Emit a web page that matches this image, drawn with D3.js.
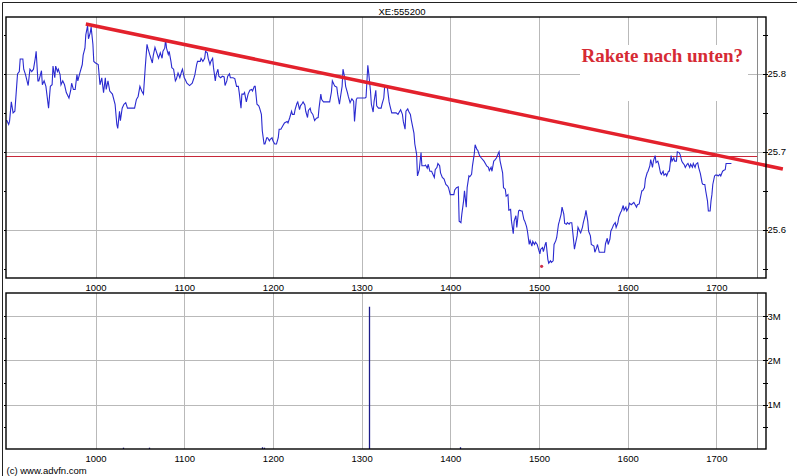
<!DOCTYPE html>
<html><head><meta charset="utf-8">
<script src="https://cdn.jsdelivr.net/npm/d3@7"></script>
<style>
html,body{margin:0;padding:0;background:#fff;}
svg{display:block;font-family:"Liberation Sans",Arial,sans-serif;}
</style></head><body>
<svg id="chart" width="800" height="476"></svg>
<script>
// ---------- data ----------
const chartTitle = "XE:555200";
const annotation = "Rakete nach unten?";
const copyright = "(c) www.advfn.com";
const timeDomain = [899, 1756];
const timeTicks = [1000, 1100, 1200, 1300, 1400, 1500, 1600, 1700];
const priceDomain = [25.538, 25.873];
const priceTicks = [25.6, 25.7, 25.8];
const priceMinorTicks = [25.55, 25.6, 25.65, 25.7, 25.75, 25.8, 25.85];
const volumeDomain = [0, 3520000];
const volumeTicks = [1000000, 2000000, 3000000];
const volumeTickLabels = ["1M", "2M", "3M"];
const volumeMinorTicks = [500000, 1000000, 1500000, 2000000, 2500000, 3000000];
const sessionEnd = 1746;
const resistanceLevel = 25.695;
const trendLine = [[989, 25.864], [1775, 25.678]];
const dayLow = [1503, 25.553];
const volumeSeries = [[1031, 30000], [1060, 30000], [1188, 40000], [1190, 30000], [1308, 3210000], [1411, 40000]];
const priceSeries = [
[899,25.740],[900,25.740],[902,25.735],[903,25.739],[905,25.764],[907,25.750],[909,25.752],[911,25.784],[912,25.800],[914,25.803],
[915,25.819],[918,25.819],[919,25.806],[921,25.799],[924,25.785],[926,25.806],[928,25.803],[930,25.806],[932,25.820],[933,25.829],
[935,25.791],[936,25.791],[939,25.804],[940,25.786],[942,25.791],[944,25.784],[947,25.756],[949,25.784],[951,25.786],[952,25.810],
[954,25.795],[955,25.810],[957,25.803],[958,25.806],[960,25.799],[961,25.786],[963,25.791],[965,25.786],[967,25.776],[970,25.769],
[972,25.779],[973,25.788],[975,25.780],[977,25.780],[979,25.799],[980,25.791],[982,25.800],[985,25.812],[986,25.824],[988,25.833],
[989,25.850],[991,25.862],[992,25.845],[994,25.853],[995,25.860],[997,25.838],[998,25.816],[1000,25.814],[1003,25.812],[1005,25.786],
[1007,25.795],[1009,25.776],[1011,25.795],[1012,25.780],[1014,25.791],[1016,25.778],[1019,25.774],[1022,25.761],[1024,25.735],[1025,25.730],
[1027,25.752],[1028,25.740],[1030,25.756],[1032,25.761],[1034,25.763],[1036,25.756],[1038,25.756],[1041,25.756],[1044,25.756],[1046,25.767],
[1048,25.771],[1050,25.784],[1052,25.778],[1054,25.774],[1056,25.808],[1058,25.838],[1059,25.833],[1061,25.825],[1064,25.814],[1065,25.823],
[1067,25.834],[1069,25.827],[1071,25.820],[1073,25.827],[1075,25.820],[1076,25.829],[1078,25.833],[1079,25.844],[1080,25.833],[1082,25.825],
[1083,25.829],[1085,25.816],[1086,25.808],[1088,25.806],[1090,25.791],[1091,25.793],[1093,25.801],[1095,25.795],[1097,25.803],[1098,25.806],
[1100,25.795],[1101,25.793],[1103,25.788],[1106,25.785],
[1109,25.788],[1111,25.795],[1112,25.799],[1114,25.812],[1115,25.816],[1118,25.816],[1119,25.820],[1121,25.816],[1123,25.820],[1124,25.829],
[1126,25.827],[1127,25.820],[1129,25.812],[1130,25.816],[1132,25.820],[1133,25.808],[1135,25.791],[1136,25.799],[1138,25.806],[1139,25.797],
[1141,25.795],[1143,25.797],[1145,25.796],[1146,25.785],[1148,25.791],[1149,25.797],[1151,25.800],[1152,25.795],[1155,25.795],[1157,25.794],
[1159,25.784],[1161,25.784],[1162,25.776],[1164,25.756],[1165,25.774],[1167,25.774],[1168,25.776],[1170,25.764],[1172,25.774],[1174,25.779],
[1176,25.780],[1177,25.778],[1179,25.784],[1180,25.784],[1182,25.761],[1184,25.759],[1185,25.756],[1187,25.748],[1188,25.727],[1190,25.710],
[1191,25.710],[1193,25.718],[1194,25.718],[1196,25.714],[1197,25.716],[1199,25.718],[1200,25.714],[1202,25.710],[1204,25.710],[1206,25.718],
[1207,25.729],[1209,25.729],[1211,25.733],[1213,25.737],[1216,25.739],[1217,25.737],[1219,25.744],[1221,25.752],[1222,25.748],[1224,25.748],
[1225,25.754],[1227,25.762],[1228,25.764],[1230,25.754],[1231,25.759],[1233,25.762],[1234,25.764],[1236,25.760],[1237,25.752],[1239,25.744],
[1240,25.753],[1242,25.756],[1243,25.751],[1245,25.748],[1247,25.740],[1249,25.743],[1251,25.744],[1252,25.756],[1254,25.774],[1255,25.767],
[1257,25.764],[1258,25.764],[1261,25.764],[1263,25.764],[1264,25.764],[1266,25.777],[1267,25.791],[1269,25.786],[1270,25.784],[1272,25.783],
[1273,25.774],[1275,25.761],[1276,25.769],[1278,25.784],[1279,25.806],[1281,25.795],[1282,25.784],[1284,25.776],[1285,25.771],[1287,25.763],
[1289,25.768],[1291,25.765],[1292,25.739],[1294,25.767],[1295,25.769],[1298,25.769],[1301,25.769],[1304,25.769],[1305,25.770],[1307,25.811],
[1308,25.801],[1310,25.778],[1311,25.761],[1313,25.751],[1314,25.764],[1316,25.779],[1317,25.759],[1319,25.756],[1322,25.756],[1323,25.761],
[1325,25.769],[1326,25.784],
[1329,25.783],[1331,25.764],[1332,25.759],[1334,25.750],[1337,25.750],[1339,25.750],[1341,25.748],[1343,25.752],[1344,25.754],[1346,25.748],
[1347,25.739],[1349,25.729],[1350,25.752],[1352,25.755],[1353,25.752],[1355,25.748],[1356,25.741],[1359,25.724],[1360,25.710],[1362,25.697],
[1363,25.669],[1364,25.673],[1365,25.677],[1367,25.699],[1368,25.682],[1371,25.682],[1372,25.683],[1374,25.679],[1375,25.684],[1377,25.675],
[1379,25.675],[1380,25.672],[1382,25.667],[1383,25.677],[1385,25.680],[1386,25.685],[1388,25.682],[1389,25.673],[1391,25.667],[1393,25.665],
[1395,25.658],[1397,25.656],[1398,25.654],[1400,25.645],[1402,25.645],[1404,25.645],[1405,25.651],[1407,25.654],[1409,25.655],[1410,25.611],
[1412,25.609],[1413,25.620],[1415,25.637],[1416,25.650],[1418,25.629],[1419,25.654],[1421,25.669],[1422,25.668],[1424,25.671],[1425,25.682],
[1427,25.697],[1428,25.709],[1430,25.703],[1431,25.702],[1433,25.695],[1435,25.692],[1438,25.688],[1440,25.684],[1441,25.682],[1443,25.680],
[1444,25.676],[1446,25.680],[1447,25.675],[1449,25.688],[1450,25.689],[1452,25.692],[1453,25.695],[1455,25.700],[1456,25.689],[1459,25.673],
[1460,25.654],[1462,25.652],[1463,25.643],[1465,25.645],[1466,25.625],[1468,25.626],[1469,25.611],[1471,25.595],[1472,25.611],[1474,25.618],
[1475,25.603],[1477,25.624],[1478,25.625],[1480,25.624],[1481,25.624],[1483,25.613],[1484,25.611],[1486,25.604],[1487,25.598],[1489,25.581],
[1490,25.586],[1492,25.579],[1493,25.585],[1495,25.581],[1496,25.584],[1498,25.581],[1499,25.577],[1501,25.569],[1502,25.575],[1504,25.577],
[1505,25.572],[1507,25.581],[1508,25.584],[1510,25.562],[1511,25.557],[1513,25.560],[1514,25.558],[1516,25.560],[1517,25.581],[1519,25.586],
[1520,25.590],[1522,25.607],[1523,25.611],[1525,25.620],[1526,25.629],[1528,25.620],[1529,25.608],[1531,25.607],[1532,25.609],[1534,25.607],
[1535,25.609],
[1537,25.609],[1538,25.598],[1540,25.575],[1541,25.581],[1543,25.592],[1544,25.603],[1546,25.598],[1547,25.596],[1549,25.603],[1550,25.609],
[1552,25.618],[1553,25.625],[1555,25.611],[1556,25.598],[1558,25.592],[1559,25.581],[1562,25.579],[1563,25.571],[1565,25.577],[1566,25.581],
[1568,25.571],[1569,25.571],[1571,25.571],[1574,25.571],[1575,25.582],[1577,25.589],[1578,25.581],[1580,25.588],[1581,25.598],[1583,25.603],
[1584,25.606],[1586,25.609],[1587,25.603],[1589,25.609],[1590,25.616],[1592,25.622],[1593,25.624],[1595,25.631],[1596,25.625],[1598,25.629],
[1599,25.624],[1601,25.628],[1602,25.634],[1604,25.632],[1605,25.633],[1607,25.635],[1608,25.633],[1610,25.629],[1611,25.632],[1613,25.633],
[1614,25.639],[1616,25.650],[1617,25.650],[1619,25.654],[1620,25.665],[1622,25.673],[1623,25.675],[1625,25.682],[1626,25.690],[1628,25.680],
[1629,25.688],[1631,25.695],[1632,25.686],[1634,25.688],[1635,25.684],[1637,25.673],[1638,25.671],[1640,25.675],[1641,25.670],[1643,25.672],
[1644,25.669],[1646,25.675],[1647,25.675],[1649,25.695],[1650,25.688],[1652,25.692],[1653,25.688],[1655,25.688],[1656,25.700],[1658,25.699],
[1659,25.697],[1661,25.688],[1662,25.686],[1664,25.683],[1665,25.680],[1667,25.684],[1668,25.685],[1670,25.680],[1671,25.684],[1673,25.680],
[1674,25.685],[1676,25.680],[1677,25.684],[1679,25.686],[1680,25.680],[1682,25.672],[1684,25.660],[1685,25.658],[1687,25.658],[1688,25.650],
[1690,25.637],[1691,25.624],[1693,25.624],[1694,25.637],[1695,25.645],[1696,25.658],[1698,25.669],[1699,25.670],[1701,25.670],[1702,25.669],
[1704,25.671],[1705,25.669],[1707,25.675],[1708,25.676],[1710,25.677],[1711,25.685],[1713,25.685],[1715,25.685],[1717,25.685]
];

// ---------- layout ----------
const svg = d3.select("#chart");
const L = 6, R = 766;
const top1 = 17, bot1 = 278, top2 = 293, bot2 = 449;
const gridColor = "#b9b9b9";

const x = d3.scaleLinear().domain(timeDomain).range([L, R]);
const y = d3.scaleLinear().domain(priceDomain).range([bot1, top1]);
const yv = d3.scaleLinear().domain(volumeDomain).range([bot2, top2]);

// outer frame
svg.append("path").attr("d", "M2.5,476 L2.5,2.5 L797,2.5").attr("fill", "none").attr("stroke", "#222").attr("stroke-width", 1);

// title
svg.append("text").attr("x", 402).attr("y", 15).attr("text-anchor", "middle")
  .attr("font-size", 9.5).attr("fill", "#000").text(chartTitle);

// ---------- grids ----------
function vGrid(t, b) {
  svg.append("g").selectAll("line").data(timeTicks).join("line")
    .attr("x1", d => Math.round(x(d)) + 0.5).attr("x2", d => Math.round(x(d)) + 0.5)
    .attr("y1", t).attr("y2", b).attr("stroke", gridColor).attr("stroke-width", 1);
}
vGrid(top1, bot1); vGrid(top2, bot2);
svg.append("g").selectAll("line").data(priceTicks).join("line")
  .attr("x1", L).attr("x2", R).attr("y1", d => Math.round(y(d)) + 0.5).attr("y2", d => Math.round(y(d)) + 0.5)
  .attr("stroke", gridColor);
svg.append("g").selectAll("line").data(volumeTicks).join("line")
  .attr("x1", L).attr("x2", R).attr("y1", d => Math.round(yv(d)) + 0.5).attr("y2", d => Math.round(yv(d)) + 0.5)
  .attr("stroke", gridColor);

// annotation background box
svg.append("rect").attr("x", 580).attr("y", 45).attr("width", 168).attr("height", 56).attr("fill", "#fff");

// session end separator
[[top1, bot1], [top2, bot2]].forEach(([t, b]) => {
  svg.append("line").attr("x1", Math.round(x(sessionEnd)) + 0.5).attr("x2", Math.round(x(sessionEnd)) + 0.5)
    .attr("y1", t).attr("y2", b).attr("stroke", "#8a8a8a");
});

// resistance line
svg.append("line").attr("x1", L).attr("x2", x(sessionEnd))
  .attr("y1", Math.round(y(resistanceLevel)) + 0.5).attr("y2", Math.round(y(resistanceLevel)) + 0.5)
  .attr("stroke", "#c8283a").attr("stroke-width", 1);

// price line
const line = d3.line().x(d => x(d[0])).y(d => y(d[1]));
svg.append("path").datum(priceSeries).attr("d", line)
  .attr("fill", "none").attr("stroke", "#2a2ad0").attr("stroke-width", 1.1).attr("stroke-linejoin", "miter");

// day low marker
svg.append("circle").attr("cx", x(dayLow[0])).attr("cy", y(dayLow[1])).attr("r", 1.6).attr("fill", "#d0304a");

// volume bars
svg.append("g").selectAll("line").data(volumeSeries).join("line")
  .attr("x1", d => Math.round(x(d[0])) + 0.5).attr("x2", d => Math.round(x(d[0])) + 0.5)
  .attr("y1", bot2).attr("y2", d => yv(d[1]))
  .attr("stroke", "#1c1c8a").attr("stroke-width", 1.3);

// trend line
svg.append("line").attr("x1", x(trendLine[0][0])).attr("y1", y(trendLine[0][1]))
  .attr("x2", x(trendLine[1][0])).attr("y2", y(trendLine[1][1]))
  .attr("stroke", "#e3212c").attr("stroke-width", 3.6).attr("stroke-linecap", "butt");

// frames
[[top1, bot1], [top2, bot2]].forEach(([t, b]) => {
  svg.append("rect").attr("x", L).attr("y", t).attr("width", R - L).attr("height", b - t)
    .attr("fill", "none").attr("stroke", "#000").attr("stroke-width", 1.4);
});

// minor ticks left/right
function minorTicks(vals, sc) {
  const g = svg.append("g");
  g.selectAll("line.l").data(vals).join("line").attr("class", "l")
    .attr("x1", L - 2).attr("x2", L).attr("y1", d => Math.round(sc(d)) + 0.5).attr("y2", d => Math.round(sc(d)) + 0.5)
    .attr("stroke", "#000");
  g.selectAll("line.r").data(vals).join("line").attr("class", "r")
    .attr("x1", R - 3).attr("x2", R + 2).attr("y1", d => Math.round(sc(d)) + 0.5).attr("y2", d => Math.round(sc(d)) + 0.5)
    .attr("stroke", "#000");
}
minorTicks(priceMinorTicks, y);
minorTicks(volumeMinorTicks, yv);

// axes labels
function styleAxis(g) {
  g.select(".domain").remove();
  g.selectAll("line").remove();
  g.selectAll("text").attr("font-size", 9.5).attr("fill", "#000").attr("font-family", "Liberation Sans, Arial, sans-serif");
}
svg.append("g").attr("transform", `translate(0,${bot1})`)
  .call(d3.axisBottom(x).tickValues(timeTicks).tickFormat(d3.format("d")).tickSize(0).tickPadding(6.5))
  .call(styleAxis);
svg.append("g").attr("transform", `translate(0,${bot2})`)
  .call(d3.axisBottom(x).tickValues(timeTicks).tickFormat(d3.format("d")).tickSize(0).tickPadding(6))
  .call(styleAxis);
svg.append("g").attr("transform", `translate(${R},0)`)
  .call(d3.axisRight(y).tickValues(priceTicks).tickFormat(d3.format(".1f")).tickSize(0).tickPadding(1.5))
  .call(styleAxis);
svg.append("g").attr("transform", `translate(${R},0)`)
  .call(d3.axisRight(yv).tickValues(volumeTicks).tickFormat((d, i) => volumeTickLabels[i]).tickSize(0).tickPadding(1.5))
  .call(styleAxis);

// annotation text
svg.append("text").attr("x", 581.5).attr("y", 61.5)
  .attr("font-family", "Liberation Serif, 'Times New Roman', serif").attr("font-weight", "bold")
  .attr("font-size", 19).attr("fill", "#d62a34").text(annotation);

// copyright
svg.append("text").attr("x", 6.5).attr("y", 473.5).attr("font-size", 9.5).attr("fill", "#000").text(copyright);
</script>
</body></html>
